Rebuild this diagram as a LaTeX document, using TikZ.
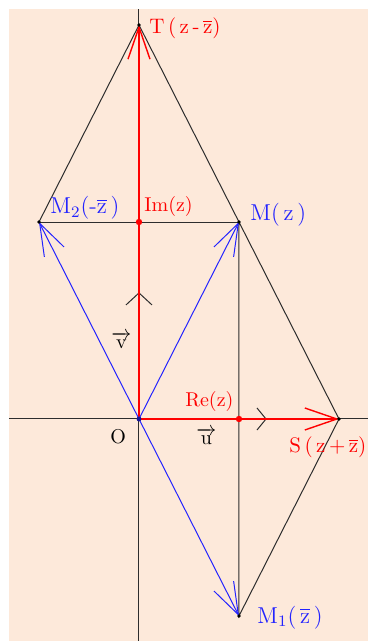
\documentclass[tikz,border=0pt]{standalone}
\usepackage{amsmath}
\usetikzlibrary{arrows.meta}
\definecolor{peach}{RGB}{253,233,218}
\definecolor{ptred}{RGB}{255,0,0}
\definecolor{ptblue}{RGB}{35,35,255}
\definecolor{linegray}{RGB}{45,45,45}
\newcommand{\zbar}{$\overline{\mbox{z}}$}
\newcommand{\vecu}{$\overrightarrow{\mbox{u}}$}
\newcommand{\vecv}{$\overrightarrow{\mbox{v}}$}

\begin{document}
\begin{tikzpicture}[x=50pt, y=98.5pt,
    seg/.style={line width=0.5pt, linegray},
    barb/.style={-{Straight Barb[length=16pt, width=11pt]}},
    vecred/.style={line width=0.7pt, ptred, barb},
    vecblue/.style={line width=0.5pt, ptblue, barb},
    lbl/.style={anchor=base west, inner sep=0pt, font=\fontsize{10}{12}\selectfont},
    big/.style={lbl, ptblue, font=\fontsize{11.5}{13}\selectfont}]
  \useasboundingbox (-1.39,-1.127) rectangle (2.29,2.127);
  \fill[peach] (-1.30,-1.127) rectangle (2.29,2.081);

  % points of the figure
  \coordinate (O) at (0,0);
  \coordinate (M) at (1,1);
  \coordinate (M1) at (1,-1);
  \coordinate (M2) at (-1,1);
  \coordinate (T) at (0,2);
  \coordinate (S) at (2,0);
  \coordinate (Im) at (0,1);
  \coordinate (Re) at (1,0);

  % --- axes ---
  \draw[seg] (-1.30,0) -- (2.29,0);
  \draw[seg] (0,-1.127) -- (0,2.081);
  % unit vectors
  \draw[seg] (-0.13,0.579) -- (0,0.64) -- (0.13,0.579);
  \draw[seg] (1.18,0.056) -- (1.27,0) -- (1.18,-0.056);

  % --- black sides ---
  \draw[seg] (M2) -- (T) -- (S) -- (M1) -- (M);
  \draw[seg] (M2) -- (M);

  % --- red vectors ---
  \draw[vecred] (O) -- (T);
  \draw[vecred] (O) -- (S);

  % --- blue vectors ---
  \draw[vecblue] (O) -- (M);
  \draw[vecblue] (O) -- (M2);
  \draw[vecblue] (O) -- (M1);

  % dots
  \fill[ptred] (Im) circle (1.6pt);
  \fill[ptred] (Re) circle (1.6pt);
  \fill[ptblue!60!black] (O) circle (1.2pt);
  \foreach \p in {M,M1,M2,T,S} \fill[black] (\p) circle (0.9pt);

  % --- labels ---
  \node[lbl, ptred, font=\fontsize{10.5}{12}\selectfont] (lT) at (0.10,1.959) {T\,(\,z\,-\,\zbar)};
  \node[lbl, ptred, font=\fontsize{10.5}{12}\selectfont] (lS) at (1.50,-0.168) {S\,(\,z\,+\,\zbar)};
  \node[big] (lM) at (1.11,1.010) {M(\,z\,)};
  \node[big] (lM2) at (-0.89,1.041) {M$_2$(-\zbar\,)};
  \node[big] (lM1) at (1.18,-1.036) {M$_1$(\,\zbar\,)};
  \node[lbl, ptred] (lIm) at (0.05,1.051) {Im(z)};
  \node[lbl, ptred] (lRe) at (0.46,0.061) {Re(z)};
  \node[lbl] (lO) at (-0.29,-0.122) {O};
  \node[lbl] (lu) at (0.57,-0.127) {\vecu};
  \node[lbl] (lv) at (-0.28,0.360) {\vecv};
\end{tikzpicture}
\end{document}
